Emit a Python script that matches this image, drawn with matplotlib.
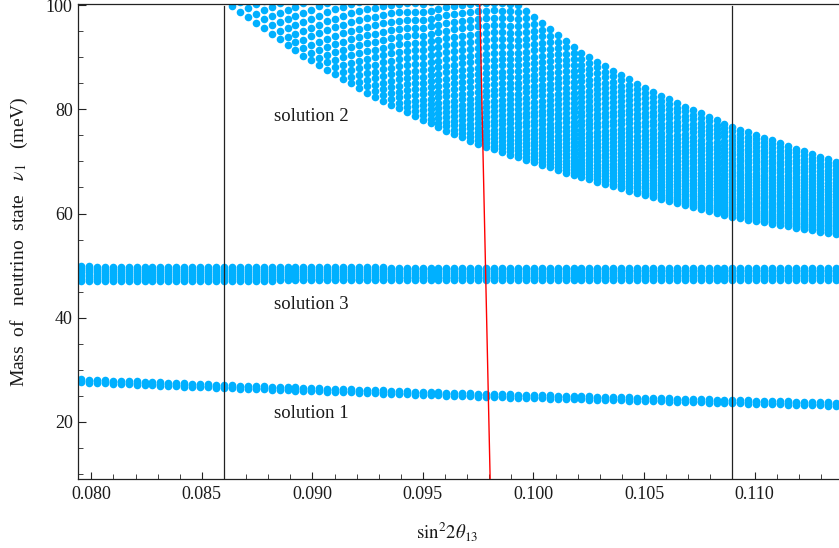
import numpy as np
import matplotlib
matplotlib.use("Agg")
import matplotlib.pyplot as plt
from matplotlib.ticker import MultipleLocator, FormatStrFormatter

plt.rcParams['font.family'] = ['Liberation Serif', 'DejaVu Serif']
plt.rcParams['mathtext.fontset'] = 'stix'

# ---------------- data ----------------
# scan grid of sin^2(2 theta13) columns (a column sits on 0.086 and on 0.109)
col_step = (0.109 - 0.086) / 64
columns = 0.086 + col_step * np.arange(-18, 78)

# solution 1: centre of the thin band
sol1_x = [0.0795, 0.0860, 0.0949, 0.0980, 0.1090, 0.1138]
sol1_y = [27.9, 26.8, 25.5, 25.1, 23.9, 23.4]

# solution 3: lower / upper dot centres
sol3_x = [0.0795, 0.0805, 0.1138]
sol3_lo = [47.1, 47.1, 47.3]
sol3_hi = [50.0, 49.7, 49.55]

# solution 2: lower and upper edges of the wide band
sol2_lo_x = [0.0860, 0.0863, 0.0895, 0.0928, 0.0958, 0.0975, 0.1015, 0.1053, 0.1090, 0.1138]
sol2_lo_y = [101.0, 100.0, 90.5, 82.4, 76.4, 73.3, 67.8, 63.2, 59.3, 55.9]
sol2_hi_x = [0.0860, 0.0900, 0.0950, 0.0993, 0.1021, 0.1051, 0.1069, 0.1090, 0.1138]
sol2_hi_y = [190.0, 158.0, 120.0, 100.0, 91.0, 83.9, 80.4, 76.6, 69.7]
n_scan = 30          # points of the inner scan per column

# reference lines
vlines_x = [0.086, 0.109]
red_x = [0.09757, 0.09804]
red_y = [100.2, 9.06]

labels = ["solution 2", "solution 3", "solution 1"]
label_x = [0.08995, 0.08995, 0.08995]
label_y = [78.7, 42.6, 21.7]

# ---------------- build the scatter ----------------
xs, ys = [], []
# solution 1
c1 = np.interp(columns, sol1_x, sol1_y)
for off in (-0.3, 0.0, 0.3):
    xs.append(columns)
    ys.append(c1 + off)
# solution 3
lo3 = np.interp(columns, sol3_x, sol3_lo)
hi3 = np.interp(columns, sol3_x, sol3_hi)
for f in np.linspace(0, 1, 8):
    xs.append(columns)
    ys.append(lo3 + f * (hi3 - lo3))
# solution 2
lo2 = np.interp(columns, sol2_lo_x, sol2_lo_y)
hi2 = np.interp(columns, sol2_hi_x, sol2_hi_y)
t = np.linspace(0, 1, n_scan)
g = 0.6 * t + 0.4 * t ** 2
for gi in g:
    yv = lo2 + gi * (hi2 - lo2)
    m = yv < 103
    xs.append(columns[m])
    ys.append(yv[m])
xs = np.concatenate(xs)
ys = np.concatenate(ys)

# ---------------- figure ----------------
fig = plt.figure(figsize=(8.39, 5.48), dpi=100)
ax = fig.add_axes([0.0925, 0.1259, 0.9075, 0.8668])

ax.scatter(xs, ys, s=30, color='#00B0FF', linewidths=0, zorder=2)

for vx in vlines_x:
    ax.plot([vx, vx], [9.06, 99.8], color='#222222', lw=0.9, zorder=3)
ax.plot(red_x, red_y, color='#FF0000', lw=1.0, zorder=4)

for txt, tx, ty in zip(labels, label_x, label_y):
    ax.text(tx, ty, txt, fontsize=13.5, ha='center', va='center', color='#1a1a1a')

ax.set_xlim(0.07938, 0.11382)
ax.set_ylim(9.06, 100.2)

ax.xaxis.set_major_locator(MultipleLocator(0.005))
ax.xaxis.set_minor_locator(MultipleLocator(0.001))
ax.xaxis.set_major_formatter(FormatStrFormatter('%.3f'))
ax.yaxis.set_major_locator(MultipleLocator(20))
ax.yaxis.set_minor_locator(MultipleLocator(5))

ax.tick_params(which='both', direction='in', top=False, right=False, colors='#222222',
               labelcolor='#1a1a1a')
ax.tick_params(which='major', length=5.4, width=0.8, labelsize=13)
ax.tick_params(which='minor', length=3.5, width=0.6)
ax.tick_params(axis='x', which='major', pad=5)
ax.tick_params(axis='y', which='major', pad=3.5)

ax.spines['right'].set_visible(False)
for sp in ('top', 'left', 'bottom'):
    ax.spines[sp].set_linewidth(0.9)
    ax.spines[sp].set_color('#222222')

ax.set_ylabel(r'Mass  of   neutrino  state   $\nu_1$   (meV)', fontsize=14, color='#1a1a1a')
ax.yaxis.set_label_coords(-0.063, 0.5)
ax.set_xlabel(r'$\mathrm{sin}^{2}2\theta_{13}$', fontsize=13.5, color='#1a1a1a')
ax.xaxis.set_label_coords(0.485, -0.0863)

fig.savefig('out.png', dpi=100)
